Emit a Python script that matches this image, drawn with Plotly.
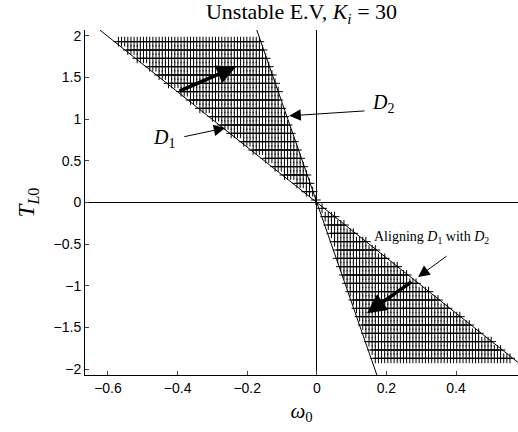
import numpy as np
import plotly.graph_objects as go

# ---- data ----
d1_slope = -3.32          # D1 : T_L0 = d1_slope * omega0
d2_slope = -12.0          # D2 : T_L0 = d2_slope * omega0
hatch_rows = [1.93, 1.83, 1.73, 1.63, 1.53, 1.43, 1.33, 1.23, 1.13, 1.03,
              0.93, 0.83, 0.73, 0.63, 0.53, 0.43, 0.33, 0.23, 0.13, 0.03,
              -0.07, -0.17, -0.27, -0.37, -0.47, -0.57, -0.67, -0.77, -0.87, -0.97,
              -1.07, -1.17, -1.27, -1.37, -1.47, -1.57, -1.67, -1.77, -1.87]
omega_step = 0.009
x_range = [-0.666, 0.578]
y_range = [-2.07, 2.07]
x_ticks = [-0.6, -0.4, -0.2, 0, 0.2, 0.4]
y_ticks = [-2, -1.5, -1, -0.5, 0, 0.5, 1, 1.5, 2]

# hatch grid (unstable region between D1 and D2)
omega_grid = np.arange(-0.66, 0.58, omega_step)
hx, hy = [], []
for t in hatch_rows:
    a = t / d1_slope
    b = t / d2_slope
    lo, hi = min(a, b), max(a, b)
    for w in omega_grid:
        if lo + 0.004 < w < hi:
            hx.append(w)
            hy.append(t)

line_T = np.array([y_range[1], y_range[0]])

fig = go.Figure()
fig.add_trace(go.Scatter(x=hx, y=hy, mode="markers",
                         marker=dict(symbol="cross-thin", size=7,
                                     line=dict(color="black", width=1)),
                         hoverinfo="skip", showlegend=False))
fig.add_trace(go.Scatter(x=line_T / d1_slope, y=line_T, mode="lines",
                         line=dict(color="black", width=1), showlegend=False))
fig.add_trace(go.Scatter(x=line_T / d2_slope, y=line_T, mode="lines",
                         line=dict(color="black", width=1), showlegend=False))

serif = "Liberation Serif, Times New Roman, serif"
anns = [
    # thick arrows
    dict(x=-0.232, y=1.63, ax=-0.399, ay=1.33, arrowwidth=3.5, arrowhead=2, arrowsize=1.1),
    dict(x=0.144, y=-1.33, ax=0.276, ay=-0.94, arrowwidth=3.5, arrowhead=2, arrowsize=1.1),
    # thin arrows
    dict(x=-0.263, y=0.894, ax=-0.385, ay=0.786, arrowwidth=1, arrowhead=2, arrowsize=2.3),
    dict(x=-0.079, y=1.04, ax=0.141, ay=1.10, arrowwidth=1, arrowhead=2, arrowsize=2.3),
    dict(x=0.291, y=-0.894, ax=0.377, ay=-0.63, arrowwidth=1, arrowhead=2, arrowsize=2.3),
]
annotations = []
for a in anns:
    annotations.append(dict(xref="x", yref="y", axref="x", ayref="y", text="",
                            showarrow=True, arrowcolor="black", **a))
annotations += [
    dict(x=-0.44, y=0.77, xref="x", yref="y", text="<i>D</i><sub>1</sub>",
         showarrow=False, font=dict(family=serif, size=20, color="black")),
    dict(x=0.19, y=1.19, xref="x", yref="y", text="<i>D</i><sub>2</sub>",
         showarrow=False, font=dict(family=serif, size=20, color="black")),
    dict(x=0.33, y=-0.415, xref="x", yref="y",
         text="Aligning <i>D</i><sub>1</sub> with <i>D</i><sub>2</sub>",
         showarrow=False, font=dict(family=serif, size=14, color="black")),
]

fig.update_layout(
    width=518, height=432,
    margin=dict(l=85, r=0, t=30, b=57),
    paper_bgcolor="white", plot_bgcolor="white",
    title=dict(text="Unstable E.V, <i>K<sub>i</sub></i> = 30",
               x=0.5, xref="paper", y=0.973, yref="container", yanchor="middle",
               font=dict(family=serif, size=22, color="black")),
    annotations=annotations,
    xaxis=dict(range=x_range, tickvals=x_ticks, ticks="inside", ticklen=4,
               showline=True, linecolor="black", linewidth=1, mirror=False,
               showgrid=False, zeroline=True, zerolinecolor="black", zerolinewidth=1,
               tickfont=dict(family="Liberation Sans, Arial", size=14, color="black"),
               title=dict(text="<i>ω</i><sub>0</sub>", standoff=8,
                          font=dict(family=serif, size=21, color="black"))),
    yaxis=dict(range=y_range, tickvals=y_ticks, ticks="inside", ticklen=4,
               showline=True, linecolor="black", linewidth=1, mirror=False,
               showgrid=False, zeroline=True, zerolinecolor="black", zerolinewidth=1,
               tickfont=dict(family="Liberation Sans, Arial", size=14, color="black"),
               title=dict(text="<i>T</i><sub><i>L</i>0</sub>", standoff=12,
                          font=dict(family=serif, size=23, color="black"))),
)

fig.write_html("out.html")
